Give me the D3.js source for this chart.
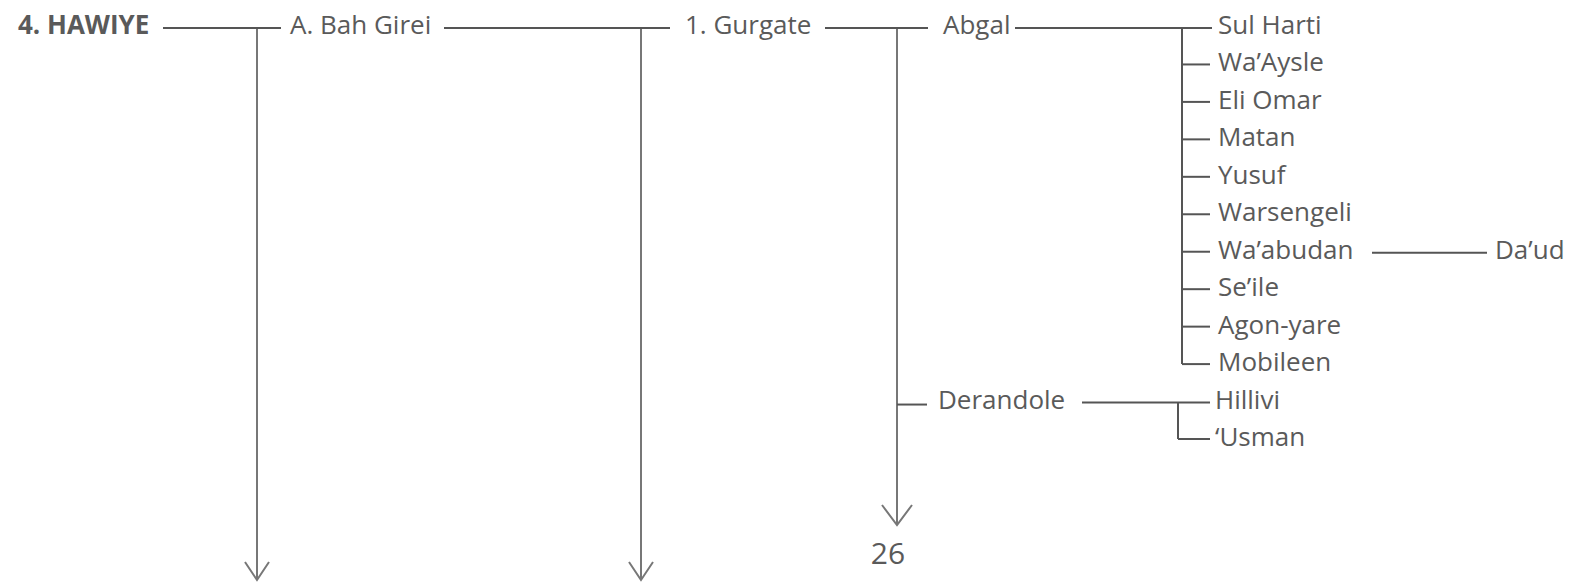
<!DOCTYPE html>
<html>
<head>
<meta charset="utf-8">
<script src="https://cdn.jsdelivr.net/npm/d3@7"></script>
<style>
  html, body { margin: 0; padding: 0; background: #fff; }
  svg { display: block; }
  text { font-family: "Open Sans", "Noto Sans", sans-serif; fill: #5a5a5a; }
</style>
</head>
<body>
<svg id="chart" width="1578" height="584"></svg>
<script>
// ---- data ----
const lineage = ["4. HAWIYE", "A. Bah Girei", "1. Gurgate", "Abgal"];
const gurgateSons = ["Abgal", "Derandole"];
const abgalSubclans = ["Sul Harti", "Wa’Aysle", "Eli Omar", "Matan", "Yusuf",
  "Warsengeli", "Wa’abudan", "Se’ile", "Agon-yare", "Mobileen"];
const wabudanBranch = ["Wa’abudan", "Da’ud"];
const derandoleSubclans = ["Hillivi", "‘Usman"];
const pageLabel = ["26"];

// ---- layout ----
const W = 1578, H = 584;
const svg = d3.select("#chart");
svg.append("rect").attr("width", W).attr("height", H).attr("fill", "#fff");

// row index -> text baseline
const y = d3.scaleLinear().domain([0, 11]).range([34, 446]);
const lineOff = -6;   // connector line relative to baseline
const tickOff = -7;

// lineage text x / connector spans / drop x
const lineageX = d3.scaleOrdinal().domain(lineage).range([18, 290, 685, 943]);
const connector = [[163, 281], [444, 670], [825, 928], [1015, 1212]];
const dropX = [257, 641, 897];
const dropTip = [580, 580, 525];

const ink = "#555";
const g = svg.append("g");

// lineage labels
g.selectAll("text.lin").data(lineage).join("text")
  .attr("class", "lin")
  .attr("x", d => lineageX(d))
  .attr("y", y(0))
  .attr("font-size", 26)
  .attr("font-weight", (d, i) => i === 0 ? 700 : 400)
  .text(d => d);

// connectors between lineage levels
g.selectAll("line.con").data(connector).join("line")
  .attr("x1", d => d[0]).attr("x2", d => d[1])
  .attr("y1", y(0) + lineOff).attr("y2", y(0) + lineOff)
  .attr("stroke", ink).attr("stroke-width", 2);

// drops with arrows
dropX.forEach((x, i) => {
  g.append("line")
    .attr("x1", x).attr("x2", x)
    .attr("y1", y(0) + lineOff).attr("y2", dropTip[i])
    .attr("stroke", ink).attr("stroke-width", 1.6);
  const hw = i === 2 ? 15 : 12, hh = i === 2 ? 20 : 18;
  g.append("path")
    .attr("d", `M${x - hw},${dropTip[i] - hh}L${x},${dropTip[i]}L${x + hw},${dropTip[i] - hh}`)
    .attr("fill", "none").attr("stroke", "#777").attr("stroke-width", 2);
});

// page number
g.append("text").data(pageLabel)
  .attr("x", 888).attr("y", 564)
  .attr("text-anchor", "middle")
  .attr("font-size", 30)
  .text(d => d);

// Abgal subclans
const subX = 1218, vX = 1182, tickEnd = 1210;
g.selectAll("text.sub").data(abgalSubclans).join("text")
  .attr("class", "sub")
  .attr("x", subX).attr("y", (d, i) => y(i))
  .attr("font-size", 26)
  .text(d => d);
g.append("line")
  .attr("x1", vX).attr("x2", vX)
  .attr("y1", y(0) + lineOff).attr("y2", y(abgalSubclans.length - 1) + tickOff)
  .attr("stroke", ink).attr("stroke-width", 2);
g.selectAll("line.tick").data(abgalSubclans.slice(1)).join("line")
  .attr("x1", vX).attr("x2", tickEnd)
  .attr("y1", (d, i) => y(i + 1) + tickOff).attr("y2", (d, i) => y(i + 1) + tickOff)
  .attr("stroke", ink).attr("stroke-width", 2);

// Wa'abudan -> Da'ud
const wi = abgalSubclans.indexOf(wabudanBranch[0]);
g.append("line")
  .attr("x1", 1372).attr("x2", 1487)
  .attr("y1", y(wi) + lineOff).attr("y2", y(wi) + lineOff)
  .attr("stroke", ink).attr("stroke-width", 2);
g.append("text").attr("x", 1495).attr("y", y(wi))
  .attr("font-size", 26).text(wabudanBranch[1]);

// Derandole
const di = abgalSubclans.length; // row 10
g.append("line")
  .attr("x1", dropX[2]).attr("x2", 927)
  .attr("y1", y(di) + lineOff + 2).attr("y2", y(di) + lineOff + 2)
  .attr("stroke", ink).attr("stroke-width", 2);
g.append("text").attr("x", 938).attr("y", y(di))
  .attr("font-size", 26).text(gurgateSons[1]);
g.append("line")
  .attr("x1", 1082).attr("x2", 1210)
  .attr("y1", y(di) + lineOff).attr("y2", y(di) + lineOff)
  .attr("stroke", ink).attr("stroke-width", 2);
const dvX = 1178;
g.append("line")
  .attr("x1", dvX).attr("x2", dvX)
  .attr("y1", y(di) + lineOff).attr("y2", y(di + 1) + tickOff)
  .attr("stroke", ink).attr("stroke-width", 2);
g.append("line")
  .attr("x1", dvX).attr("x2", tickEnd)
  .attr("y1", y(di + 1) + tickOff).attr("y2", y(di + 1) + tickOff)
  .attr("stroke", ink).attr("stroke-width", 2);
g.selectAll("text.der").data(derandoleSubclans).join("text")
  .attr("class", "der")
  .attr("x", 1215).attr("y", (d, i) => y(di + i))
  .attr("font-size", 26)
  .text(d => d);
</script>
</body>
</html>
